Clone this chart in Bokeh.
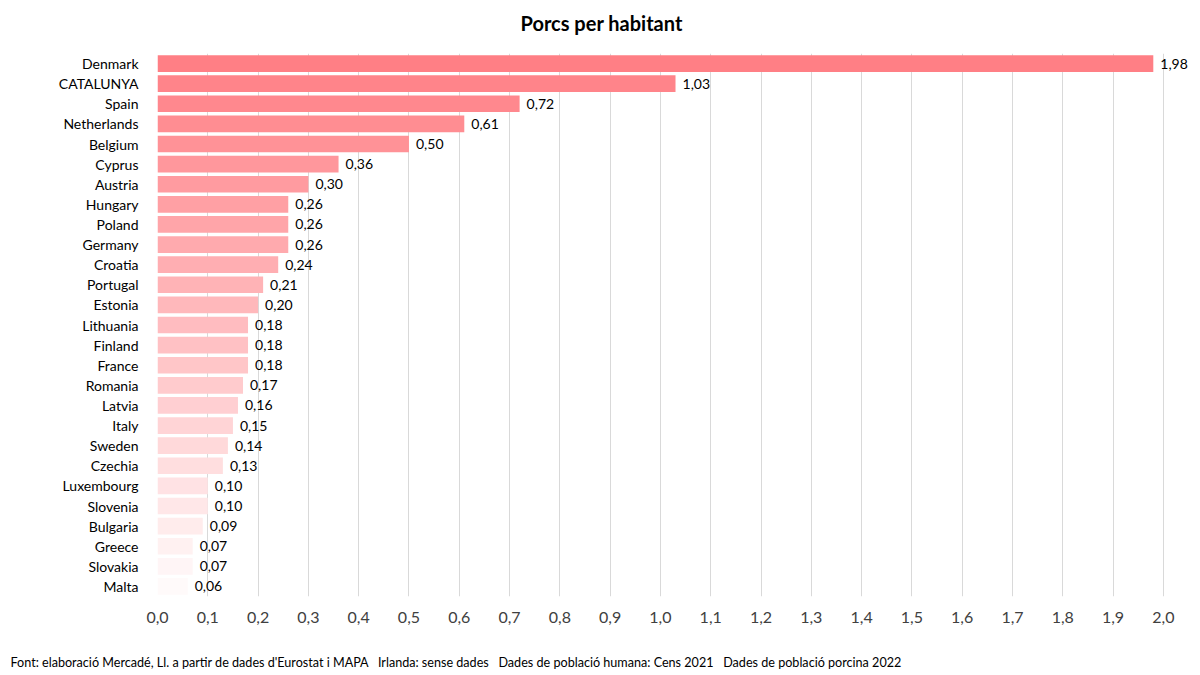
from bokeh.plotting import figure
from bokeh.models import ColumnDataSource, CustomJSTickFormatter, Title, FixedTicker
from bokeh.embed import file_html
from bokeh.resources import INLINE

countries = ["Denmark", "CATALUNYA", "Spain", "Netherlands", "Belgium", "Cyprus",
             "Austria", "Hungary", "Poland", "Germany", "Croatia", "Portugal",
             "Estonia", "Lithuania", "Finland", "France", "Romania", "Latvia",
             "Italy", "Sweden", "Czechia", "Luxembourg", "Slovenia", "Bulgaria",
             "Greece", "Slovakia", "Malta"]
pigs_per_person = [1.98, 1.03, 0.72, 0.61, 0.50, 0.36, 0.30, 0.26, 0.26, 0.26,
                   0.24, 0.21, 0.20, 0.18, 0.18, 0.18, 0.17, 0.16, 0.15, 0.14,
                   0.13, 0.10, 0.10, 0.09, 0.07, 0.07, 0.06]
x_ticks = [i / 10 for i in range(21)]

FONT = "Lato"
GAP = "\u00a0\u00a0\u00a0"
W, H = 1192, 669

# colour fades from salmon red to almost white, by rank
n = len(countries)
colors = []
for i in range(n):
    t = i / (n - 1)
    g = int(round(127 + t * (250 - 127)))
    b = int(round(133 + t * (250 - 133)))
    colors.append("#%02x%02x%02x" % (255, g, b))

src = ColumnDataSource(dict(
    country=countries,
    value=pigs_per_person,
    label=[("%.2f" % v).replace(".", ",") for v in pigs_per_person],
    color=colors,
))

# x range runs a bit past 2.0 so the Denmark value label is not clipped
p = figure(width=W, height=H, y_range=list(reversed(countries)),
           x_range=(0, 2.05), output_backend="svg", toolbar_location=None,
           min_border_left=157, min_border_right=4, min_border_top=0,
           min_border_bottom=72)
p.title = None

p.hbar(y="country", right="value", left=0, height=0.83, source=src,
       fill_color="color", line_color=None)
p.text(x="value", y="country", text="label", source=src, x_offset=7,
       text_baseline="middle", text_align="left", text_font_size="14px",
       text_color="#000000", text_font={"value": FONT})

p.xaxis.ticker = FixedTicker(ticks=x_ticks)
p.xaxis.formatter = CustomJSTickFormatter(code="return tick.toFixed(1).replace('.', ',');")
p.xaxis.major_label_text_font = FONT
p.xaxis.major_label_text_font_size = "16px"
p.xaxis.major_label_text_color = "#404040"
p.xaxis.major_label_standoff = 9
p.xaxis.axis_line_color = None
p.xaxis.major_tick_line_color = None
p.xaxis.minor_tick_line_color = None

p.yaxis.major_label_text_font = FONT
p.yaxis.major_label_text_font_size = "14px"
p.yaxis.major_label_text_color = "#000000"
p.yaxis.major_label_standoff = 13
p.yaxis.axis_line_color = None
p.yaxis.major_tick_line_color = None
p.yaxis.minor_tick_line_color = None

p.xgrid.grid_line_color = "#d9d9d9"
p.ygrid.grid_line_color = None
p.outline_line_color = None

# titles sit centred in their own panel, so blank spacer panels push them outward
p.add_layout(Title(text="\u00a0", text_font_size="1px", standoff=7), "above")
p.add_layout(Title(text="Porcs per habitant", text_font=FONT, text_font_size="20px",
                   text_font_style="bold", text_color="#000000", standoff=17,
                   align="left", offset=363), "above")

footer = ("Font: elaboració Mercadé, Ll. a partir de dades d'Eurostat i MAPA" + GAP +
          "Irlanda: sense dades" + GAP + "Dades de població humana: Cens 2021" + GAP +
          "Dades de població porcina 2022")
p.add_layout(Title(text="\u00a0", text_font=FONT, text_font_size="12.6px",
                   standoff=10), "below")
p.add_layout(Title(text=footer, text_font=FONT, text_font_size="12.6px",
                   text_font_style="normal", text_color="#000000", standoff=0,
                   align="left", offset=-147), "below")

open("out.html", "w").write(file_html(p, INLINE))
